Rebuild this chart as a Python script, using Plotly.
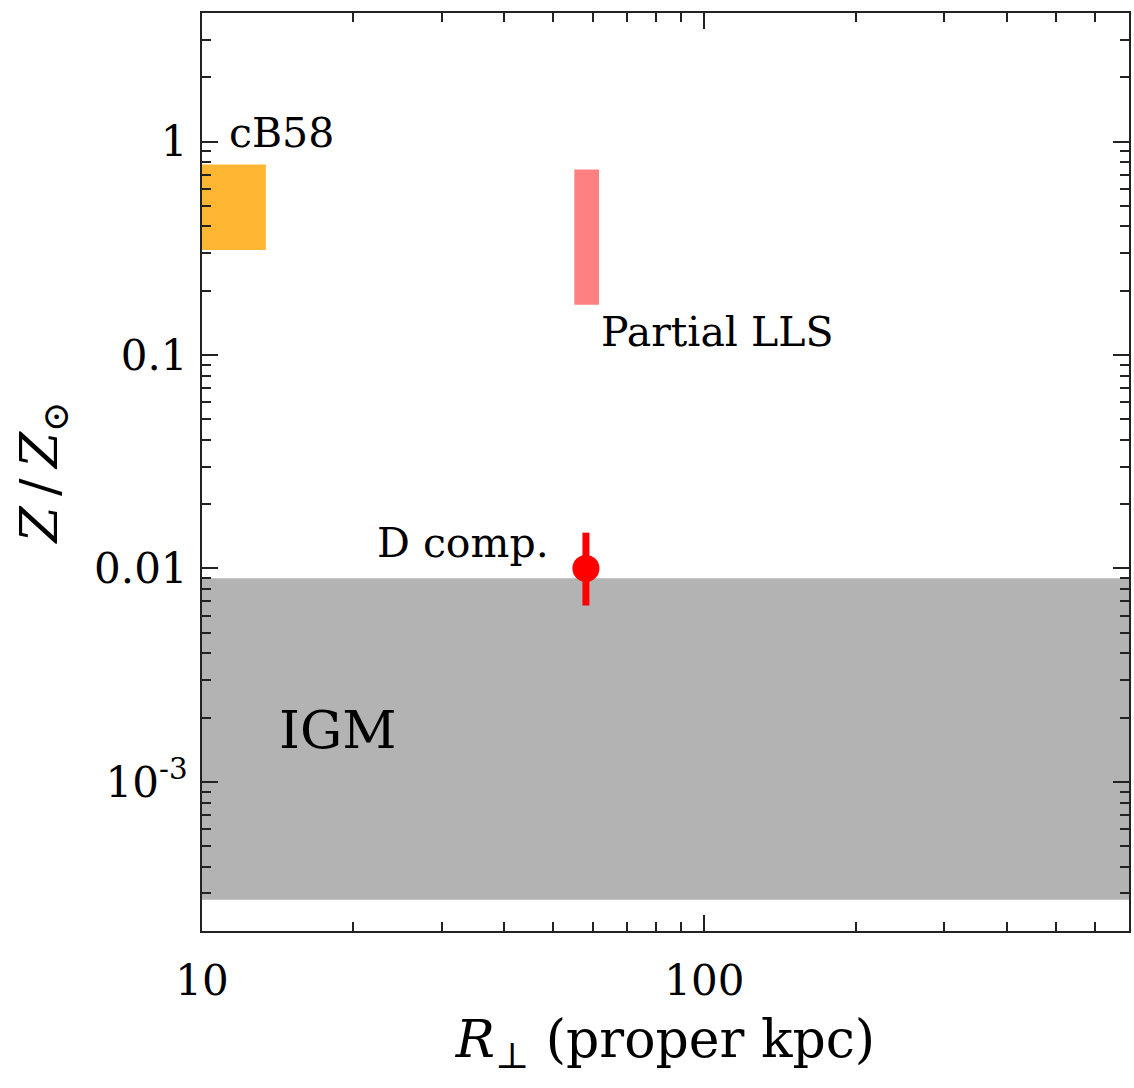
import numpy as np
import plotly.graph_objects as go

# Metallicity constraints vs. projected distance
x_range = [10, 700]
y_range = [2e-4, 4]

# cB58 galaxy box (R from axis edge to ~13 kpc)
cb58_r = [10, 13.4]
cb58_z = [0.31, 0.78]

# Partial LLS metallicity range
lls_r = [55.1, 61.7]
lls_z = [0.172, 0.74]

# D component measurement
dcomp_r = [58.1]
dcomp_z = [0.010]
dcomp_err_plus = [0.0047]
dcomp_err_minus = [0.0033]

# IGM metallicity band
igm_r = [1, 1e4]
igm_z = [2.8e-4, 9e-3]

x_tickvals = [10, 100]
x_ticktext = ["10", "100"]
y_tickvals = [1e-3, 1e-2, 0.1, 1]
y_ticktext = ["10<sup>-3</sup>", "0.01", "0.1", "1"]

FONT = "DejaVu Serif"


def rect(xs, ys):
    return [xs[0], xs[1], xs[1], xs[0], xs[0]], [ys[0], ys[0], ys[1], ys[1], ys[0]]


fig = go.Figure()

for (xs, ys), color in [
    (rect(igm_r, igm_z), "#B3B3B3"),
    (rect(cb58_r, cb58_z), "#FFB733"),
    (rect(lls_r, lls_z), "#FF8080"),
]:
    fig.add_trace(go.Scatter(
        x=xs, y=ys, mode="lines", fill="toself", fillcolor=color,
        line=dict(width=0), hoverinfo="skip", showlegend=False,
    ))

fig.add_trace(go.Scatter(
    x=dcomp_r, y=dcomp_z, mode="markers",
    marker=dict(color="#FF0000", size=27, line=dict(width=0)),
    error_y=dict(type="data", symmetric=False, array=dcomp_err_plus,
                 arrayminus=dcomp_err_minus, color="#FF0000",
                 thickness=7, width=0),
    showlegend=False,
))

labels = [
    ("cB58", 11.2, 1.1, 41),
    ("Partial LLS", 61.8, 0.128, 41),
    ("D comp.", 22.1, 0.0131, 41),
    ("IGM", 14.1, 1.76e-3, 53),
]
for text, xv, yv, size in labels:
    fig.add_annotation(
        x=np.log10(xv), y=np.log10(yv), text=text, showarrow=False,
        xanchor="left", yanchor="middle",
        font=dict(family=FONT, size=size, color="black"),
    )


def minor_vals(lo_exp, hi_exp):
    vals = []
    for e in range(lo_exp, hi_exp + 1):
        for m in range(2, 10):
            vals.append(m * 10.0 ** e)
    return vals


axis_common = dict(
    showline=True, linewidth=2, linecolor="#222222", mirror="allticks",
    ticks="inside", ticklen=16, tickwidth=1.6, tickcolor="#222222",
    showgrid=False, zeroline=False,
    tickfont=dict(family=FONT, size=42, color="black"),
)

fig.update_xaxes(
    type="log", range=[np.log10(x_range[0]), np.log10(x_range[1])],
    tickmode="array", tickvals=x_tickvals, ticktext=x_ticktext,
    minor=dict(ticks="inside", ticklen=9, tickwidth=1.6, tickcolor="#222222",
               tickmode="array", tickvals=minor_vals(1, 2), showgrid=False),
    title=dict(text="<i>R</i><sub>⊥</sub> (proper kpc)",
               font=dict(family=FONT, size=52, color="black"), standoff=16),
    ticklabelstandoff=12,
    **axis_common,
)
fig.update_yaxes(
    type="log", range=[np.log10(y_range[0]), np.log10(y_range[1])],
    tickmode="array", tickvals=y_tickvals, ticktext=y_ticktext,
    minor=dict(ticks="inside", ticklen=9, tickwidth=1.6, tickcolor="#222222",
               tickmode="array", tickvals=minor_vals(-4, 0), showgrid=False),
    title=dict(text="<i>Z</i>\u2009/\u2009<i>Z</i><sub>⊙</sub>",
               font=dict(family=FONT, size=52, color="black"), standoff=20),
    ticklabelstandoff=4,
    **axis_common,
)

fig.update_layout(
    width=1134, height=1088,
    margin=dict(l=202, r=3, t=13, b=157),
    plot_bgcolor="white", paper_bgcolor="white",
    font=dict(family=FONT, color="black"),
)

fig.write_html("out.html")
